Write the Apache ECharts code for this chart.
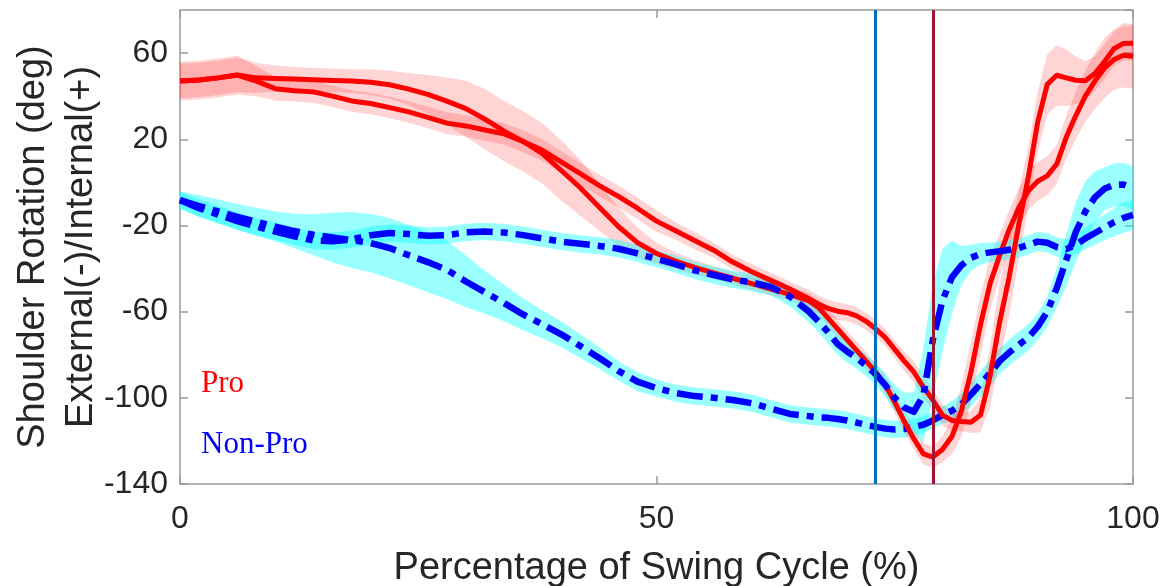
<!DOCTYPE html>
<html>
<head>
<meta charset="utf-8">
<script src="https://cdn.jsdelivr.net/npm/echarts@6/dist/echarts.min.js"></script>
<style>
html,body{margin:0;padding:0;background:#fff;}
#chart{width:1166px;height:586px;}
</style>
</head>
<body>
<div id="chart"></div>
<script>
// ---- data ----
const X = [0,2,4,6,8,10,12,14,16,18,20,22,24,26,28,30,32,34,36,38,40,42,44,46,48,50,52,54,56,58,60,62,64,66,
  67,68,69,70,71,72,73,74,75,76,77,78,79,80,81,82,83,84,85,86,87,88,89,90,91,92,93,94,95,96,97,98,99,100];

// Pro, trial A (reaches deepest external rotation)
const proA = [47,47.5,48.5,49.8,48.5,48.2,48,47.6,47.3,47,46.5,45.3,43.3,40.8,37.7,34.2,29.3,23.8,19,13.5,5.5,-2.5,-11.5,-20.5,-28,-33,-36.5,-39.5,-42,-44.5,-47,-49.5,-52,-55,
  -58,-63,-68,-73,-78,-83,-88,-94,-102,-111,-119,-126,-127.5,-124,-118,-106,-88,-66,-47,-34,-22,-12,-4,0.5,3,8.5,21,31,40,47,53,57,59,58.5];
const proAsd = [8,8,8,8,7,6,5.5,5.5,5.5,5.5,6,6.5,7.5,9,11,13,14,14,14,14,14,13,11,9,7,5,4,3.5,3,3,3,3,3,3.5,
  3.5,4,4,4,4,4,4,4.5,5,5,5,5,5,6,8,12,14,14,12,10,9,9,9,9,9,9,10,11,12,13,14,14,15,15];

// Pro, trial B
const proB = [47,47.5,48.5,49.8,47,43.5,42.5,42,40,37.8,36.6,34.7,32.7,30.2,27.5,26.2,24.3,22.5,19,15,9.5,4,-1.5,-6.5,-12,-18,-22.5,-27,-31.5,-37,-41.5,-45.5,-49.5,-54,
  -56.5,-58.5,-59.8,-60.5,-62,-64.5,-68,-72,-77.5,-83,-88,-95,-101,-108,-110.5,-111,-111.3,-108,-90,-65,-44,-20,2,28,45.5,49.7,48.5,47.4,47.2,50.5,56,62,64.5,64.6];
const proBsd = [9,9,9,9,7,5.5,5,5,5,5,5,5,5,5,5,5,5,5,5,5,5,5,5,5,5,5,4,4,3.5,3.5,3.5,3.5,3.5,4,
  4,4,4,4,4,4,4,4,4,4.5,5,5,5,5,4.5,4.5,5,8,14,18,18,16,14,14,14,14,13,11,9,8,8,8,8,8];

// Non-Pro, trial 1 (deep, late recovery)
const npA = [-8.2,-11,-13.5,-16,-18.3,-20.5,-22.6,-24.3,-25.6,-26.8,-28.2,-30.5,-33.8,-37,-40.6,-46,-51,-56,-61.3,-65.8,-70.5,-76,-81.5,-87.5,-92.5,-95.5,-97.8,-99.2,-100,-101,-102.5,-105,-107.5,-108.5,
  -109,-109.3,-109.8,-110.5,-111.5,-112.5,-113.5,-114.3,-114.7,-114.5,-113.5,-112.5,-110.5,-108,-106,-103,-98.5,-93.5,-88.5,-83,-79,-75.5,-72,-67,-60,-49,-36,-23,-13.5,-7,-3,-1.2,-1,-2.6];
const npAsd = [4,5,5.5,6,6.5,7,8,9.5,11.5,13,13.5,14,14,14,13.5,12,10,8.5,7.5,6.5,6,5.5,5,4.5,4.5,4,4,4,4,4,4,4,4,4,
  4,4,4,4,4,4,4,4,4,4,4,4,4,4,4.5,5,5.5,6,6,6,6,6,6,6,7,9,12,14,14,12,10,10,10,10];

// Non-Pro, trial 2 (plateau, early recovery)
const npB = [-8.2,-12,-15,-18,-20.5,-22.8,-25,-27,-27.3,-26.5,-24.5,-23.5,-24,-24.8,-24.5,-23.2,-22.8,-23.3,-24.5,-26,-27.5,-28.5,-29.5,-30.8,-33,-35.5,-38,-40.8,-43,-45,-46.5,-48.5,-53,-60,
  -64.5,-69.5,-75,-78.5,-81.5,-85,-89,-94,-100,-104.5,-106.5,-99,-73,-55,-44,-38.5,-35,-33.2,-32.5,-32,-31.3,-30.5,-29,-27.5,-28,-30,-31,-29,-26,-23.5,-21,-18.5,-16.5,-15.1];
const npBsd = [4,4,4,4,4,4,4,4,4,4,4,4,4,4,4,4,4,4,4,4,4,4,4,4,4,4,4,4,4,4,4,4,4.5,5,
  5,5,5,5,5,5,5,5.5,6,7,9,22,26,24,17,9,6,5,4.5,4.5,4.5,4.5,4.5,4.5,4.5,4.5,4.5,4.5,5,5.5,6,6.5,7,7];

// event markers (% of swing cycle)
const EVENTS = [73, 79];
const EVENT_COLORS = ['#0072BD', '#A2142F'];

// axis ticks
const X_MIN = 0, X_MAX = 100, X_STEP = 50;
const Y_MIN = -140, Y_MAX = 80, Y_STEP = 40;

// ---- chart ----
const chart = echarts.init(document.getElementById('chart'), null, {renderer: 'canvas'});

function pairs(ys) { return X.map((x, i) => [x, ys[i]]); }

function bandSeries(mean, sd, color, name) {
  return {
    type: 'custom',
    name: name,
    silent: true,
    clip: true,
    data: X.map((x, i) => [x, mean[i] - sd[i], mean[i] + sd[i]]),
    encode: {x: 0, y: [1, 2]},
    renderItem: function (params, api) {
      if (params.dataIndex !== 0) return null;
      const up = [], lo = [];
      for (let i = 0; i < X.length; i++) {
        up.push(api.coord([X[i], mean[i] + sd[i]]));
        lo.push(api.coord([X[i], mean[i] - sd[i]]));
      }
      return {
        type: 'polygon',
        shape: {points: up.concat(lo.reverse())},
        style: {fill: color}
      };
    }
  };
}

function lineSeries(ys, color, width, dash, name) {
  return {
    type: 'line',
    name: name,
    data: pairs(ys),
    showSymbol: false,
    symbol: 'none',
    silent: true,
    clip: true,
    lineStyle: {color: color, width: width, type: dash || 'solid', cap: 'butt', join: 'round'}
  };
}

const PINK = 'rgba(255,0,0,0.17)';
const CYAN = 'rgba(0,255,255,0.4)';
const DASHDOT = [26, 8, 7, 8];

const axisGray = '#9a9a9a';
const labelColor = '#262626';
const FONT = 'Liberation Sans, Arial, sans-serif';

function boxAxisLine() { return {show: true, onZero: false, lineStyle: {color: axisGray, width: 1.5}}; }
function boxTick() { return {show: true, inside: true, length: 8, lineStyle: {color: axisGray, width: 1.5}}; }

const option = {
  animation: false,
  backgroundColor: '#ffffff',
  grid: {left: 180, right: 33, top: 10, bottom: 102, containLabel: false, outerBoundsMode: 'none'},
  xAxis: [{
    type: 'value', min: X_MIN, max: X_MAX, interval: X_STEP, position: 'bottom',
    name: 'Percentage of Swing Cycle (%)', nameLocation: 'middle', nameGap: 66, nameMoveOverlap: false,
    nameTextStyle: {fontFamily: FONT, fontSize: 38, color: labelColor},
    axisLine: boxAxisLine(), axisTick: boxTick(),
    axisLabel: {fontFamily: FONT, fontSize: 32, color: labelColor, margin: 19},
    splitLine: {show: false}
  }, {
    type: 'value', min: X_MIN, max: X_MAX, interval: X_STEP, position: 'top',
    axisLine: boxAxisLine(), axisTick: boxTick(),
    axisLabel: {show: false}, splitLine: {show: false}
  }],
  yAxis: [{
    type: 'value', min: Y_MIN, max: Y_MAX, interval: Y_STEP, position: 'left',
    name: 'Shoulder Rotation (deg)\nExternal(-)/Internal(+)', nameLocation: 'middle', nameRotate: 90, nameGap: 74,
    nameMoveOverlap: false,
    nameTextStyle: {fontFamily: FONT, fontSize: 38, lineHeight: 48, color: labelColor},
    axisLine: boxAxisLine(), axisTick: boxTick(),
    axisLabel: {fontFamily: FONT, fontSize: 32, color: labelColor, margin: 12, showMaxLabel: false},
    splitLine: {show: false}
  }, {
    type: 'value', min: Y_MIN, max: Y_MAX, interval: Y_STEP, position: 'right',
    axisLine: boxAxisLine(), axisTick: boxTick(),
    axisLabel: {show: false}, splitLine: {show: false}
  }],
  series: [
    bandSeries(npA, npAsd, CYAN, 'Non-Pro band 1'),
    lineSeries(npA, '#0000ff', 6.5, DASHDOT, 'Non-Pro'),
    bandSeries(proA, proAsd, PINK, 'Pro band 1'),
    lineSeries(proA, '#ff0000', 5, 'solid', 'Pro'),
    bandSeries(proB, proBsd, PINK, 'Pro band 2'),
    lineSeries(proB, '#ff0000', 5, 'solid', 'Pro'),
    bandSeries(npB, npBsd, CYAN, 'Non-Pro band 2'),
    lineSeries(npB, '#0000ff', 6.5, DASHDOT, 'Non-Pro'),
    {
      type: 'line', name: 'events', data: [], silent: true,
      markLine: {
        silent: true, symbol: ['none', 'none'], animation: false,
        label: {show: false},
        data: EVENTS.map((e, i) => ({xAxis: e, lineStyle: {color: EVENT_COLORS[i], width: 3, type: 'solid'}}))
      }
    }
  ],
  graphic: [
    {type: 'text', left: 201, top: 368, silent: true,
     style: {text: 'Pro', fill: '#ff0000', font: '31px "Liberation Serif", "Times New Roman", serif'}},
    {type: 'text', left: 201, top: 429, silent: true,
     style: {text: 'Non-Pro', fill: '#0000ff', font: '31px "Liberation Serif", "Times New Roman", serif'}}
  ]
};

chart.setOption(option);
</script>
</body>
</html>
